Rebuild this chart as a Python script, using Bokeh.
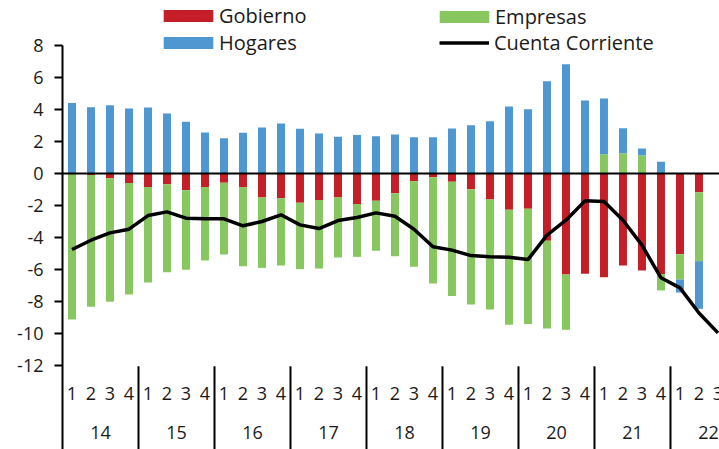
import numpy as np
from bokeh.plotting import figure
from bokeh.models import ColumnDataSource, Legend, LegendItem, Span, FixedTicker, Range1d
from bokeh.core.properties import value
from bokeh.embed import file_html
from bokeh.resources import INLINE

nan = float("nan")

# ---- data -------------------------------------------------------------
years = ["14", "15", "16", "17", "18", "19", "20", "21", "22"]
quarters = ["1", "2", "3", "4"]

gobierno = [0.0, -0.10, -0.29, -0.60, -0.85, -0.67, -1.04, -0.85, -0.58, -0.85,
            -1.50, -1.54, -1.83, -1.65, -1.50, -1.90, -1.71, -1.23, -0.48, -0.23,
            -0.52, -0.98, -1.63, -2.27, -2.21, -4.21, -6.31, -6.27, -6.48, -5.75,
            -6.06, -6.29, -5.04, -1.17, nan]
empresas = [-9.13, -8.23, -7.73, -6.96, -5.96, -5.50, -4.98, -4.59, -4.48, -4.94,
            -4.40, -4.21, -4.15, -4.29, -3.75, -3.31, -3.12, -3.94, -5.35, -6.65,
            -7.13, -7.21, -6.87, -7.19, -7.19, -5.48, -3.46, 0.0, 1.21, 1.27,
            1.14, -1.02, -1.59, -4.31, nan]
hogares = [4.41, 4.14, 4.27, 4.06, 4.12, 3.75, 3.23, 2.56, 2.20, 2.54,
           2.87, 3.12, 2.79, 2.50, 2.29, 2.41, 2.33, 2.44, 2.27, 2.27,
           2.81, 3.02, 3.27, 4.19, 4.02, 5.77, 6.83, 4.56, 3.48, 1.56,
           0.42, 0.73, -0.81, -2.98, nan]
cuenta_corriente = [-4.75, -4.17, -3.71, -3.48, -2.63, -2.40, -2.79, -2.83, -2.83, -3.27,
                    -3.00, -2.58, -3.21, -3.44, -2.94, -2.75, -2.46, -2.67, -3.48, -4.58,
                    -4.79, -5.13, -5.21, -5.23, -5.38, -3.85, -2.92, -1.71, -1.75, -2.92,
                    -4.48, -6.52, -7.15, -8.72, -9.96]
y_ticks = [-12, -10, -8, -6, -4, -2, 0, 2, 4, 6, 8]

# ---- style ------------------------------------------------------------
RED = "#C41F28"
GREEN = "#88C760"
BLUE = "#4E97D1"
TXT = "#1a1a1a"
FONT = "Open Sans"

n = len(cuenta_corriente)
xs = list(range(n))

p = figure(width=719, height=449,
           x_range=Range1d(-0.5, 34.08), y_range=Range1d(-17.25, 10.8125),
           x_axis_type=None, output_backend="svg", toolbar_location=None,
           min_border_left=62, min_border_right=0, min_border_top=0, min_border_bottom=0)
p.xgrid.visible = False
p.ygrid.visible = False
p.outline_line_color = None
p.background_fill_color = "white"

# stacked bars (positives up, negatives down, in series order)
pos = np.zeros(n)
neg = np.zeros(n)
rends = {}
for name, vals, color in [("Gobierno", gobierno, RED), ("Empresas", empresas, GREEN), ("Hogares", hogares, BLUE)]:
    v = np.array(vals, dtype=float)
    is_pos = v >= 0
    bottom = np.where(is_pos, pos, neg)
    top = bottom + v
    pos = np.where(is_pos, pos + v, pos)
    neg = np.where(v < 0, neg + v, neg)
    src = ColumnDataSource(dict(x=xs, bottom=bottom, top=top))
    rends[name] = p.vbar(x="x", bottom="bottom", top="top", width=0.42, source=src,
                         fill_color=color, line_color=None)

p.add_layout(Span(location=0, dimension="width", line_color="black", line_width=2))

r_cc = p.line(xs, cuenta_corriente, line_color="black", line_width=3.5)

# y axis
ya = p.yaxis[0]
ya.ticker = FixedTicker(ticks=y_ticks)
ya.major_label_overrides = {t: str(t) for t in y_ticks}
ya.bounds = (-17.25, 8)
ya.axis_line_color = "black"
ya.axis_line_width = 2
ya.major_tick_in = 0
ya.major_tick_out = 8
ya.major_tick_line_width = 2
ya.minor_tick_line_color = None
ya.major_label_text_font = FONT
ya.major_label_text_font_size = "18px"
ya.major_label_text_color = TXT
ya.major_label_standoff = 11

# two-level category axis (quarter / year) drawn below -12
nq = len(quarters)
q_x = list(range(len(years) * nq))
q_txt = quarters * len(years)
p.text(x=q_x, y=[-13.73] * len(q_x), text=q_txt, text_font=value(FONT), text_font_size="18px",
       text_color=TXT, text_align="center", text_baseline="middle")
y_x = [k * nq + (nq - 1) / 2 for k in range(len(years))]
p.text(x=y_x, y=[-16.17] * len(y_x), text=years, text_font=value(FONT), text_font_size="18px",
       text_color=TXT, text_align="center", text_baseline="middle")
sep_x = [k * nq - 0.5 for k in range(1, len(years) + 1)]
p.segment(x0=sep_x, y0=[-12.05] * len(sep_x), x1=sep_x, y1=[-17.25] * len(sep_x),
          line_color="black", line_width=2)

# legends
def style(leg, gw):
    leg.border_line_color = None
    leg.background_fill_alpha = 0
    leg.padding = 0
    leg.margin = 0
    leg.spacing = 0
    leg.label_text_font = FONT
    leg.label_text_font_size = "20px"
    leg.label_text_color = TXT
    leg.label_height = 26
    leg.glyph_height = 15
    leg.glyph_width = gw
    return leg

leg1 = style(Legend(items=[LegendItem(label="Gobierno", renderers=[rends["Gobierno"]]),
                           LegendItem(label="Hogares", renderers=[rends["Hogares"]])],
                    location=(95, 393)), 62)
leg1.label_standoff = 0
leg2 = style(Legend(items=[LegendItem(label="Empresas", renderers=[rends["Empresas"]])],
                    location=(371, 419)), 62)
leg2.label_standoff = 0
leg3 = style(Legend(items=[LegendItem(label="Cuenta Corriente", renderers=[r_cc])],
                    location=(377, 393)), 50)
leg3.label_standoff = 5
for lg in (leg1, leg2, leg3):
    p.add_layout(lg)

open("out.html", "w").write(file_html(p, INLINE))
